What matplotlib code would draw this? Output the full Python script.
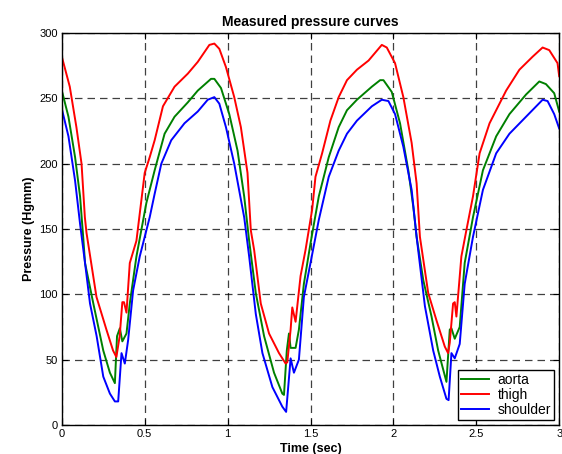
import matplotlib
matplotlib.use("Agg")
import matplotlib.pyplot as plt

plt.rcParams["font.family"] = ["Liberation Sans", "DejaVu Sans"]

# values
aorta_t = [0, 0.04, 0.08, 0.11, 0.13, 0.14, 0.19, 0.25, 0.29, 0.32, 0.333, 0.35, 0.365, 0.39, 0.41, 0.45, 0.51, 0.56, 0.62, 0.68, 0.76, 0.82, 0.90, 0.92, 0.96, 1.01, 1.06, 1.10, 1.13, 1.17, 1.22, 1.28, 1.33, 1.34, 1.357, 1.37, 1.38, 1.41, 1.43, 1.46, 1.50, 1.55, 1.61, 1.67, 1.72, 1.78, 1.87, 1.92, 1.94, 1.99, 2.04, 2.09, 2.12, 2.14, 2.18, 2.23, 2.27, 2.32, 2.34, 2.35, 2.37, 2.40, 2.43, 2.48, 2.54, 2.62, 2.70, 2.80, 2.88, 2.92, 2.97, 3.0]
aorta = [256, 236, 205, 175, 142, 124, 93, 57, 40, 32, 68, 74, 64, 70, 93, 129, 170, 195, 223, 236, 247, 256, 265, 265, 258, 238, 210, 175, 141, 101, 68, 40, 24, 23, 57, 70, 59, 59, 73, 108, 139, 175, 205, 228, 241, 249, 259, 264, 264, 255, 231, 195, 167, 144, 111, 83, 57, 33, 73, 74, 66, 75, 124, 159, 195, 221, 238, 253, 263, 261, 254, 240]

thigh_t = [0, 0.048, 0.088, 0.119, 0.139, 0.149, 0.209, 0.269, 0.309, 0.329, 0.349, 0.365, 0.375, 0.39, 0.41, 0.45, 0.5, 0.53, 0.56, 0.61, 0.68, 0.76, 0.82, 0.89, 0.92, 0.95, 0.99, 1.04, 1.08, 1.12, 1.14, 1.16, 1.20, 1.25, 1.31, 1.35, 1.36, 1.38, 1.39, 1.41, 1.44, 1.47, 1.51, 1.53, 1.57, 1.62, 1.67, 1.72, 1.78, 1.85, 1.93, 1.96, 2.01, 2.06, 2.11, 2.14, 2.16, 2.21, 2.26, 2.31, 2.33, 2.34, 2.36, 2.37, 2.38, 2.41, 2.44, 2.48, 2.52, 2.58, 2.68, 2.76, 2.84, 2.90, 2.94, 2.99, 3.0]
thigh = [282, 259, 228, 200, 159, 147, 98, 73, 57, 52, 68, 94, 94, 86, 124, 141, 193, 205, 218, 244, 259, 269, 278, 291, 292, 288, 274, 251, 228, 193, 149, 134, 93, 70, 55, 47, 48, 73, 90, 79, 114, 134, 165, 190, 208, 233, 251, 264, 272, 279, 291, 289, 277, 251, 216, 185, 144, 101, 80, 60, 55, 63, 93, 94, 83, 129, 149, 175, 208, 231, 256, 272, 282, 289, 287, 277, 267]

shoulder_t = [0, 0.04, 0.08, 0.11, 0.14, 0.17, 0.21, 0.25, 0.29, 0.32, 0.34, 0.36, 0.38, 0.40, 0.43, 0.47, 0.53, 0.56, 0.60, 0.66, 0.74, 0.82, 0.88, 0.92, 0.95, 0.99, 1.04, 1.10, 1.13, 1.17, 1.21, 1.27, 1.33, 1.353, 1.38, 1.40, 1.43, 1.46, 1.50, 1.55, 1.61, 1.67, 1.72, 1.78, 1.87, 1.93, 1.97, 2.01, 2.06, 2.11, 2.14, 2.19, 2.24, 2.28, 2.32, 2.333, 2.35, 2.37, 2.40, 2.43, 2.48, 2.54, 2.62, 2.70, 2.80, 2.90, 2.93, 2.97, 3.0]
shoulder = [242, 221, 187, 154, 124, 93, 68, 37, 24, 18, 18, 55, 47, 65, 103, 129, 159, 177, 200, 218, 231, 240, 249, 251, 246, 228, 200, 159, 129, 85, 55, 29, 14, 10, 51, 40, 50, 98, 124, 157, 190, 210, 223, 233, 244, 249, 248, 238, 213, 180, 144, 91, 57, 37, 20, 19, 55, 51, 62, 108, 144, 180, 208, 223, 236, 249, 248, 238, 227]

fig = plt.figure(figsize=(5.62, 4.54), dpi=100)
ax = fig.add_axes([0.110, 0.064, 0.885, 0.863])

ax.plot(aorta_t, aorta, color="#008000", lw=1.4, label="aorta")
ax.plot(thigh_t, thigh, color="#ff0000", lw=1.4, label="thigh")
ax.plot(shoulder_t, shoulder, color="#0000ff", lw=1.4, label="shoulder")

ax.set_xlim(0, 3)
ax.set_ylim(0, 300)
ax.set_xticks([0, 0.5, 1, 1.5, 2, 2.5, 3])
ax.set_xticklabels(["0", "0.5", "1", "1.5", "2", "2.5", "3"])
ax.set_yticks(range(0, 301, 50))
ax.grid(True, color="black", linestyle=(0, (6, 4)), linewidth=0.9, alpha=0.75)
ax.tick_params(direction="in", top=True, right=True, labelsize=8, length=4, pad=3)
for s in ax.spines.values():
    s.set_linewidth(1.0)

ax.set_title("Measured pressure curves", fontsize=10, fontweight="bold", pad=5)
ax.set_xlabel("Time (sec)", fontsize=9, fontweight="bold", labelpad=3)
ax.set_ylabel("Pressure (Hgmm)", fontsize=9, fontweight="bold", labelpad=3)

leg = ax.legend(loc="lower right", fontsize=10, fancybox=False, framealpha=1,
                edgecolor="black", borderaxespad=0.35, handlelength=2.0,
                labelspacing=0.05, borderpad=0.25, handletextpad=0.6)
leg.get_frame().set_linewidth(1.0)

fig.savefig("out.png", dpi=100)
